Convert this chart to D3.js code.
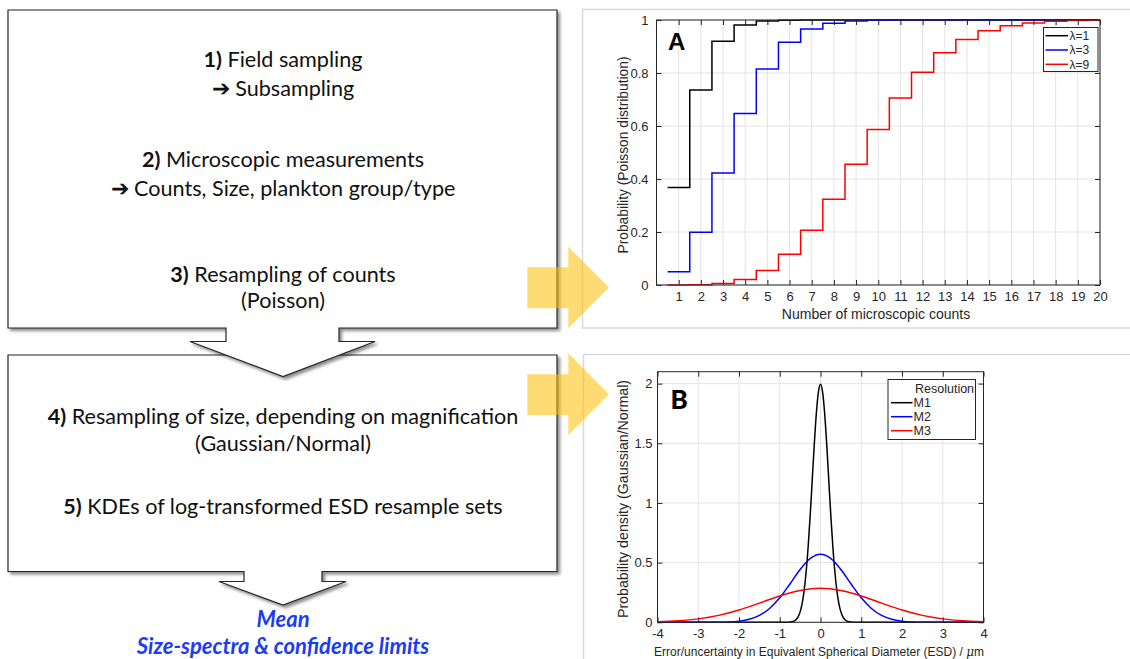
<!DOCTYPE html>
<html>
<head>
<meta charset="utf-8">
<script src="https://cdn.jsdelivr.net/npm/d3@7"></script>
<style>
  body { margin: 0; background: #fff; }
  .flow { font-family: Lato, "Open Sans", sans-serif; font-size: 21.6px; fill: #111; }
  .flow .num { font-weight: bold; }
  .result { font-family: Lato, "Open Sans", sans-serif; font-size: 22px; font-weight: bold; font-style: italic; fill: #1a3cf5; }
  .ax text { font-family: "Liberation Sans", Arial, sans-serif; fill: #262626; }
  .grid line { stroke: #e3e3e3; stroke-width: 1; }
  .tickmarks line { stroke: #262626; }
  .tickmarks path { display: none; }
  .frame { fill: none; stroke: #d9d9d9; stroke-width: 1.5; }
  .boxline { fill: none; stroke: #262626; stroke-width: 1; }
  .legend rect { fill: #fff; stroke: #262626; stroke-width: 1; }
  .legend text { font-size: 12px; }
</style>
</head>
<body>
<script>

    // panel A: Poisson cumulative probabilities at each count
    var counts = [1, 2, 3, 4, 5, 6, 7, 8, 9, 10, 11, 12, 13, 14, 15, 16, 17, 18, 19, 20];
    var cdfLambda1 = [0.368, 0.736, 0.920, 0.981, 0.996, 0.999, 1.000, 1.000, 1.000, 1.000,
                      1.000, 1.000, 1.000, 1.000, 1.000, 1.000, 1.000, 1.000, 1.000, 1.000];
    var cdfLambda3 = [0.050, 0.199, 0.423, 0.647, 0.815, 0.916, 0.966, 0.988, 0.996, 0.999,
                      1.000, 1.000, 1.000, 1.000, 1.000, 1.000, 1.000, 1.000, 1.000, 1.000];
    var cdfLambda9 = [0.000, 0.001, 0.006, 0.021, 0.055, 0.116, 0.207, 0.324, 0.456, 0.587,
                      0.706, 0.803, 0.876, 0.926, 0.959, 0.978, 0.989, 0.995, 0.998, 0.999];
    var lambdaLabels = ["λ=1", "λ=3", "λ=9"];
    var yTicksA = [0, 0.2, 0.4, 0.6, 0.8, 1];

    // panel B: size error densities for three magnifications
    var esdM1 = [-4, -1, -0.9, -0.8, -0.7, -0.65, -0.6, -0.55, -0.5, -0.45, -0.4, -0.35, -0.3, -0.25, -0.2, -0.15, -0.1, -0.05,
                 0, 0.05, 0.1, 0.15, 0.2, 0.25, 0.3, 0.35, 0.4, 0.45, 0.5, 0.55, 0.6, 0.65, 0.7, 0.8, 0.9, 1, 4];
    var densM1 = [0, 0, 0.0001, 0.0007, 0.0044, 0.0102, 0.0222, 0.0455, 0.0876, 0.159, 0.270, 0.432, 0.648, 0.913, 1.210, 1.506, 1.760, 1.933,
                  1.995, 1.933, 1.760, 1.506, 1.210, 0.913, 0.648, 0.432, 0.270, 0.159, 0.0876, 0.0455, 0.0222, 0.0102, 0.0044, 0.0007, 0.0001, 0, 0];
    var esdM2 = [-4, -3.5, -3, -2.75, -2.5, -2.25, -2, -1.75, -1.5, -1.25, -1, -0.75, -0.5, -0.25,
                 0, 0.25, 0.5, 0.75, 1, 1.25, 1.5, 1.75, 2, 2.25, 2.5, 2.75, 3, 3.5, 4];
    var densM2 = [0, 0, 0.0001, 0.0003, 0.0010, 0.0032, 0.0096, 0.025, 0.0574, 0.116, 0.205, 0.321, 0.442, 0.535,
                  0.570, 0.535, 0.442, 0.321, 0.205, 0.116, 0.0574, 0.025, 0.0096, 0.0032, 0.0010, 0.0003, 0.0001, 0, 0];
    var esdM3 = [-4, -3.5, -3, -2.5, -2, -1.5, -1, -0.5, 0, 0.5, 1, 1.5, 2, 2.5, 3, 3.5, 4];
    var densM3 = [0.0048, 0.0125, 0.0287, 0.0579, 0.1027, 0.1605, 0.221, 0.267, 0.285,
                  0.267, 0.221, 0.1605, 0.1027, 0.0579, 0.0287, 0.0125, 0.0048];
    var resolutionLabels = ["M1", "M2", "M3"];
    var xTicksB = [-4, -3, -2, -1, 0, 1, 2, 3, 4];
    var yTicksB = [0, 0.5, 1, 1.5, 2];

    var seriesColors = ["#000000", "#0000ff", "#ff0000"];

    var width = 1130, height = 659;

    var svg = d3.select("body").append("svg")
        .attr("width", width)
        .attr("height", height);

    var defs = svg.append("defs");
    defs.append("filter").attr("id", "shadow")
        .attr("x", "-5%").attr("y", "-5%").attr("width", "115%").attr("height", "115%")
        .append("feDropShadow")
        .attr("dx", 2.5).attr("dy", 2.5).attr("stdDeviation", 1.5)
        .attr("flood-color", "#000").attr("flood-opacity", 0.45);

    // ---------- flow chart on the left ----------
    var flow = svg.append("g");

    // second box with its down arrow (drawn first, the first box's arrow lies over it)
    flow.append("path")
        .attr("d", "M8,355 H557 V571.5 H322 V581.5 H346 L283,605 L219,581.5 H244 V571.5 H8 Z")
        .attr("fill", "#fff").attr("stroke", "#262626").attr("stroke-width", 1.2)
        .attr("filter", "url(#shadow)");

    flow.append("path")
        .attr("d", "M8,10 H557 V328 H339 V341.5 H375 L283,376.5 L190,341.5 H226 V328 H8 Z")
        .attr("fill", "#fff").attr("stroke", "#262626").attr("stroke-width", 1.2)
        .attr("filter", "url(#shadow)");

    var flowLines = [
        {num: "1)", text: " Field sampling", y: 66.5},
        {num: "", text: "➔ Subsampling", y: 96},
        {num: "2)", text: " Microscopic measurements", y: 166.5},
        {num: "", text: "➔ Counts, Size, plankton group/type", y: 195.5},
        {num: "3)", text: " Resampling of counts", y: 281.5},
        {num: "", text: "(Poisson)", y: 308},
        {num: "4)", text: " Resampling of size, depending on magnification", y: 423.5},
        {num: "", text: "(Gaussian/Normal)", y: 450.5},
        {num: "5)", text: " KDEs of log-transformed ESD resample sets", y: 513.5}
    ];

    flowLines.forEach(function (l) {
        var t = flow.append("text").attr("class", "flow")
            .attr("x", 283).attr("y", l.y).attr("text-anchor", "middle");
        if (l.num) t.append("tspan").attr("class", "num").text(l.num);
        t.append("tspan").text(l.text);
    });

    flow.append("text").attr("class", "result")
        .attr("x", 283).attr("y", 627).attr("text-anchor", "middle").text("Mean");
    flow.append("text").attr("class", "result")
        .attr("x", 283).attr("y", 654).attr("text-anchor", "middle").text("Size-spectra & confidence limits");

    // ---------- panel frames ----------
    svg.append("rect").attr("class", "frame")
        .attr("x", 582.5).attr("y", 9.5).attr("width", 600).attr("height", 318.5);
    svg.append("rect").attr("class", "frame")
        .attr("x", 583.5).attr("y", 354.5).attr("width", 600).attr("height", 400);

    // MATLAB style axes: grid, box, ticks inside on every side
    function drawAxes(g, x, y, xTicks, yTicks, opt) {
        var x0 = x.range()[0], x1 = x.range()[1];
        var y0 = y.range()[0], y1 = y.range()[1];

        var grid = g.append("g").attr("class", "grid");
        grid.selectAll(".gx").data(xTicks).enter().append("line")
            .attr("x1", function (d) { return x(d); }).attr("x2", function (d) { return x(d); })
            .attr("y1", y0).attr("y2", y1);
        grid.selectAll(".gy").data(yTicks).enter().append("line")
            .attr("y1", function (d) { return y(d); }).attr("y2", function (d) { return y(d); })
            .attr("x1", x0).attr("x2", x1);

        var fmt = function (d) { return String(d); };

        g.append("g").attr("class", "tickmarks")
            .attr("transform", "translate(0," + y0 + ")")
            .call(d3.axisBottom(x).tickValues(xTicks).tickSize(-5).tickPadding(opt.xPad).tickFormat(fmt))
            .selectAll("text").style("font-size", opt.tickSize + "px");
        g.append("g").attr("class", "tickmarks")
            .attr("transform", "translate(0," + y1 + ")")
            .call(d3.axisTop(x).tickValues(xTicks).tickSize(-5).tickFormat(""));
        g.append("g").attr("class", "tickmarks")
            .attr("transform", "translate(" + x0 + ",0)")
            .call(d3.axisLeft(y).tickValues(yTicks).tickSize(-5).tickPadding(opt.yPad).tickFormat(fmt))
            .selectAll("text").style("font-size", opt.tickSize + "px");
        g.append("g").attr("class", "tickmarks")
            .attr("transform", "translate(" + x1 + ",0)")
            .call(d3.axisRight(y).tickValues(yTicks).tickSize(-5).tickFormat(""));

        g.selectAll(".tickmarks line").attr("stroke", "#262626");
    }

    function drawBox(g, x, y) {
        g.append("rect").attr("class", "boxline")
            .attr("x", x.range()[0]).attr("y", y.range()[1])
            .attr("width", x.range()[1] - x.range()[0])
            .attr("height", y.range()[0] - y.range()[1]);
    }

    // ---------- panel A ----------
    var gA = svg.append("g").attr("class", "ax");
    var xA = d3.scaleLinear().domain([0, 20]).range([656.5, 1100]);
    var yA = d3.scaleLinear().domain([0, 1]).range([285, 20]);

    drawAxes(gA, xA, yA, counts, yTicksA, {xPad: 6.5, yPad: 8, tickSize: 13});

    var stairs = d3.line()
        .x(function (d) { return xA(d[0]); })
        .y(function (d) { return yA(d[1]); })
        .curve(d3.curveStepAfter);

    [cdfLambda1, cdfLambda3, cdfLambda9].forEach(function (cdf, i) {
        var pts = cdf.map(function (v, k) { return [counts[k] - 0.5, v]; });
        pts.push([counts[counts.length - 1], cdf[cdf.length - 1]]);
        gA.append("path").attr("d", stairs(pts))
            .attr("fill", "none").attr("stroke", seriesColors[i]).attr("stroke-width", 1.5);
    });

    drawBox(gA, xA, yA);

    gA.append("text").attr("x", 876).attr("y", 319).attr("text-anchor", "middle")
        .style("font-size", "14px").text("Number of microscopic counts");
    gA.append("text").attr("transform", "translate(628,155) rotate(-90)").attr("text-anchor", "middle")
        .style("font-size", "13.8px").text("Probability (Poisson distribution)");
    gA.append("text").attr("x", 668).attr("y", 49.5)
        .style("font-size", "24px").style("font-weight", "bold").style("fill", "#000").text("A");

    var legA = gA.append("g").attr("class", "legend");
    legA.append("rect").attr("x", 1043.5).attr("y", 27.5).attr("width", 54.5).attr("height", 44);
    lambdaLabels.forEach(function (lab, i) {
        var yy = 35.7 + i * 14.3;
        legA.append("line").attr("x1", 1045.5).attr("x2", 1068).attr("y1", yy).attr("y2", yy)
            .attr("stroke", seriesColors[i]).attr("stroke-width", 1.5);
        legA.append("text").attr("x", 1069.5).attr("y", yy + 4.2).text(lab);
    });

    // ---------- panel B ----------
    var gB = svg.append("g").attr("class", "ax");
    var xB = d3.scaleLinear().domain([-4, 4]).range([657.5, 983.5]);
    var yB = d3.scaleLinear().domain([0, 2.1]).range([622.3, 371.7]);

    drawAxes(gB, xB, yB, xTicksB, yTicksB, {xPad: 6.5, yPad: 5, tickSize: 13});

    var curve = d3.line()
        .x(function (d) { return xB(d[0]); })
        .y(function (d) { return yB(d[1]); })
        .curve(d3.curveMonotoneX);

    [[esdM1, densM1], [esdM2, densM2], [esdM3, densM3]].forEach(function (s, i) {
        var pts = s[0].map(function (v, k) { return [v, s[1][k]]; });
        gB.append("path").attr("d", curve(pts))
            .attr("fill", "none").attr("stroke", seriesColors[i]).attr("stroke-width", 1.5);
    });

    drawBox(gB, xB, yB);

    var xlabB = gB.append("text").attr("x", 819).attr("y", 655.5).attr("text-anchor", "middle")
        .style("font-size", "12px");
    xlabB.append("tspan").text("Error/uncertainty in Equivalent Spherical Diameter (ESD) / ");
    xlabB.append("tspan").style("font-style", "italic").style("font-family", "'DejaVu Serif', serif").text("μ");
    xlabB.append("tspan").text("m");

    gB.append("text").attr("transform", "translate(628,499) rotate(-90)").attr("text-anchor", "middle")
        .style("font-size", "14.2px").text("Probability density (Gaussian/Normal)");
    gB.append("text").attr("x", 670.5).attr("y", 408.5)
        .style("font-family", "Lato, sans-serif")
        .style("font-size", "26px").style("font-weight", "900").style("fill", "#000").text("B");

    var legB = gB.append("g").attr("class", "legend");
    legB.append("rect").attr("x", 888).attr("y", 379.5).attr("width", 87.5).attr("height", 60);
    legB.append("text").attr("x", 915).attr("y", 393).style("font-size", "12.5px").text("Resolution");
    resolutionLabels.forEach(function (lab, i) {
        var yy = 402.7 + i * 14;
        legB.append("line").attr("x1", 891).attr("x2", 912.5).attr("y1", yy).attr("y2", yy)
            .attr("stroke", seriesColors[i]).attr("stroke-width", 1.5);
        legB.append("text").attr("x", 913.5).attr("y", yy + 4.5).style("font-size", "12.5px").text(lab);
    });

    // ---------- yellow block arrows pointing to the panels ----------
    var arrows = [
        {y0: 246.7, s0: 267.3, s1: 308.3, y1: 328.3, tip: 287.5},
        {y0: 353.3, s0: 374.3, s1: 415, y1: 435, tip: 394.2}
    ];
    svg.selectAll(".yarrow").data(arrows).enter().append("path")
        .attr("d", function (a) {
            return "M527.3," + a.s0 + " H568.3 V" + a.y0 + " L609," + a.tip +
                " L568.3," + a.y1 + " V" + a.s1 + " H527.3 Z";
        })
        .attr("fill", "#ffc000").attr("fill-opacity", 0.55);

</script>
</body>
</html>
